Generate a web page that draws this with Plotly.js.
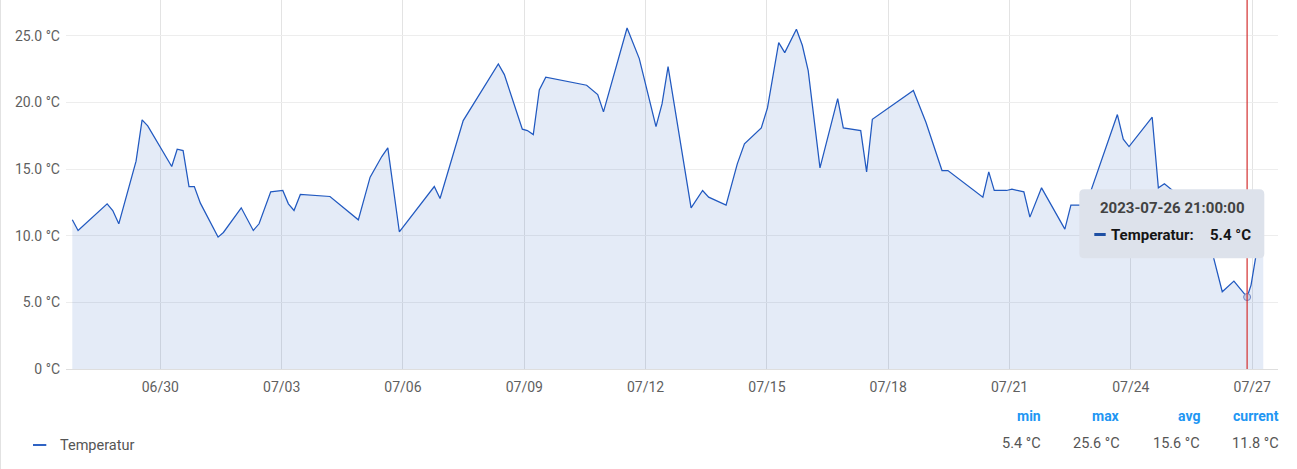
<!DOCTYPE html>
<html><head><meta charset="utf-8">
<script src="https://cdn.plot.ly/plotly-3.0.1.min.js"></script>
<style>
html,body{margin:0;padding:0;background:#fff;}
#chart{width:1297px;height:469px;}
#edge{position:absolute;left:0;top:0;width:1px;height:469px;background:#e2e2e2;}
</style>
</head><body>
<div id="chart"></div><div id="edge"></div>
<script>
const times = [
'2023-06-27 19:45','2023-06-27 23:10','2023-06-28 16:25','2023-06-28 19:45','2023-06-28 23:20',
'2023-06-29 09:35','2023-06-29 13:10','2023-06-29 16:30','2023-06-30 06:45','2023-06-30 10:00',
'2023-06-30 13:30','2023-06-30 17:00','2023-06-30 20:10','2023-06-30 23:45','2023-07-01 10:15',
'2023-07-01 13:25','2023-07-02 00:00','2023-07-02 07:10','2023-07-02 10:35','2023-07-02 17:30',
'2023-07-03 00:40','2023-07-03 04:00','2023-07-03 07:20','2023-07-03 11:05','2023-07-04 04:40',
'2023-07-04 21:30','2023-07-05 04:30','2023-07-05 11:25','2023-07-05 15:00','2023-07-05 21:50',
'2023-07-06 18:35','2023-07-06 22:00','2023-07-07 11:45','2023-07-08 08:35','2023-07-08 12:10',
'2023-07-08 22:50','2023-07-09 01:50','2023-07-09 05:20','2023-07-09 08:55','2023-07-09 12:45',
'2023-07-10 13:00','2023-07-10 19:35','2023-07-10 23:00','2023-07-11 13:00','2023-07-11 20:15',
'2023-07-12 06:10','2023-07-12 09:45','2023-07-12 13:20','2023-07-13 03:00','2023-07-13 09:50',
'2023-07-13 13:25','2023-07-13 23:45','2023-07-14 06:25','2023-07-14 10:40','2023-07-14 20:40',
'2023-07-15 00:20','2023-07-15 07:00','2023-07-15 10:35','2023-07-15 17:30','2023-07-15 21:00',
'2023-07-16 00:30','2023-07-16 07:30','2023-07-16 18:00','2023-07-16 21:20','2023-07-17 07:40',
'2023-07-17 11:10','2023-07-17 14:35','2023-07-18 11:35','2023-07-18 14:55','2023-07-18 22:25',
'2023-07-19 07:55','2023-07-19 11:25','2023-07-20 08:10','2023-07-20 11:40','2023-07-20 14:55',
'2023-07-20 22:15','2023-07-21 01:25','2023-07-21 08:30','2023-07-21 12:05','2023-07-21 19:00',
'2023-07-22 08:50','2023-07-22 12:25','2023-07-22 21:20','2023-07-23 16:00','2023-07-23 19:30',
'2023-07-23 22:55','2023-07-24 12:40','2023-07-24 16:20','2023-07-24 19:55','2023-07-25 18:40',
'2023-07-26 06:15','2023-07-26 13:10','2023-07-26 21:00','2023-07-26 23:20','2023-07-27 06:35'
];
const temps = [
11.2,10.4,12.4,11.9,10.9,
15.6,18.7,18.25,15.2,16.5,
16.4,13.7,13.7,12.45,9.9,
10.25,12.1,10.4,10.9,13.3,
13.4,12.4,11.9,13.1,12.95,
11.2,14.4,15.95,16.6,10.3,
13.7,12.8,18.65,22.9,22.1,
18.0,17.9,17.6,20.95,21.9,
21.3,20.6,19.3,25.6,23.3,
18.2,19.9,22.7,12.1,13.4,
12.9,12.3,15.4,16.9,18.1,
19.6,24.5,23.75,25.5,24.3,
22.4,15.1,20.3,18.1,17.9,
14.8,18.75,20.6,20.9,18.5,
14.9,14.9,12.9,14.8,13.4,
13.4,13.5,13.3,11.4,13.6,
10.5,12.3,12.3,19.1,17.25,
16.7,18.9,13.6,13.9,11.55,
5.8,6.6,5.4,6.3,11.8
];
const seriesName = 'Temperatur';
const yTickVals = [0, 5, 10, 15, 20, 25];
const yTickText = ['0 °C', '5.0 °C', '10.0 °C', '15.0 °C', '20.0 °C', '25.0 °C'];
const statLabels = ['min', 'max', 'avg', 'current'];
const statValues = ['5.4 °C', '25.6 °C', '15.6 °C', '11.8 °C'];
const hoverTime = '2023-07-26 21:00';

// geometry (pixels)
const W = 1297, H = 469, ML = 66, MR = 19, MT = 0, MB = 100;
const PW = W - ML - MR, PH = H - MT - MB;
const fx = px => (px - ML) / PW;
const fy = py => (MT + PH - py) / PH;

const hi = times.indexOf(hoverTime);
const hoverVal = temps[hi];

const lineColor = '#2159c0';
const font = 'Roboto, "Noto Sans", sans-serif';

const traces = [
  {
    x: times, y: temps, type: 'scatter', mode: 'lines', name: seriesName,
    line: {color: lineColor, width: 1.25},
    fill: 'tozeroy', fillcolor: 'rgba(33,89,192,0.12)',
    hoverinfo: 'skip', showlegend: false
  },
  {
    x: [times[hi]], y: [hoverVal], type: 'scatter', mode: 'markers',
    marker: {size: 7, color: 'rgba(196,207,230,0.95)', line: {color: '#6d86c6', width: 1}},
    hoverinfo: 'skip', showlegend: false
  }
];

// tooltip box (rounded rect in paper coords)
const bx0 = 1079.3, bx1 = 1264.3, by0 = 189.3, by1 = 258.3, r = 5;
const rx = r / PW, ry = r / PH;
const X0 = fx(bx0), X1 = fx(bx1), Yt = fy(by0), Yb = fy(by1);
const boxPath = `M ${X0+rx} ${Yt} L ${X1-rx} ${Yt} Q ${X1} ${Yt} ${X1} ${Yt-ry} L ${X1} ${Yb+ry} Q ${X1} ${Yb} ${X1-rx} ${Yb} L ${X0+rx} ${Yb} Q ${X0} ${Yb} ${X0} ${Yb+ry} L ${X0} ${Yt-ry} Q ${X0} ${Yt} ${X0+rx} ${Yt} Z`;

const shapes = [
  {type: 'line', xref: 'x', yref: 'paper', x0: times[hi], x1: times[hi], y0: 0, y1: 1,
   line: {color: '#d32f2f', width: 1.2}, layer: 'above'},
  {type: 'path', xref: 'paper', yref: 'paper', path: boxPath,
   fillcolor: 'rgb(221,226,235)', line: {width: 0}, layer: 'above'},
  {type: 'line', xref: 'paper', yref: 'paper', x0: fx(1094.3), x1: fx(1105.7), y0: fy(234.5), y1: fy(234.5),
   line: {color: '#1d4fa3', width: 3}, layer: 'above'},
  {type: 'line', xref: 'paper', yref: 'paper', x0: fx(33), x1: fx(46.3), y0: fy(445), y1: fy(445),
   line: {color: '#2f63c4', width: 2}, layer: 'above'}
];

const annotations = [
  {xref: 'paper', yref: 'paper', x: fx(1172), y: fy(207.7), xanchor: 'center', yanchor: 'middle',
   text: '<b>' + hoverTime + ':00</b>', showarrow: false, font: {family: font, size: 15, color: '#424242'}},
  {xref: 'paper', yref: 'paper', x: fx(1108.5), y: fy(235), xanchor: 'left', yanchor: 'middle',
   text: '<b>' + seriesName + ':</b>', showarrow: false, font: {family: font, size: 15, color: '#151515'}},
  {xref: 'paper', yref: 'paper', x: fx(1253), y: fy(235), xanchor: 'right', yanchor: 'middle',
   text: '<b>' + hoverVal.toFixed(1) + ' °C</b>', showarrow: false, font: {family: font, size: 15, color: '#151515'}},
  {xref: 'paper', yref: 'paper', x: fx(58), y: fy(445), xanchor: 'left', yanchor: 'middle',
   text: seriesName, showarrow: false, font: {family: font, size: 14.5, color: '#555555'}}
];
const statRight = [1042.5, 1122.3, 1201.7, 1281];
statLabels.forEach((lab, i) => {
  annotations.push({xref: 'paper', yref: 'paper', x: fx(statRight[i]), y: fy(416), xanchor: 'right', yanchor: 'middle',
    text: '<b>' + lab + '</b>', showarrow: false, font: {family: font, size: 14, color: '#2196f3'}});
  annotations.push({xref: 'paper', yref: 'paper', x: fx(statRight[i]), y: fy(444), xanchor: 'right', yanchor: 'middle',
    text: statValues[i], showarrow: false, font: {family: font, size: 14.5, color: '#555555'}});
});

const layout = {
  width: W, height: H,
  margin: {l: ML, r: MR, t: MT, b: MB, pad: 0},
  paper_bgcolor: '#ffffff', plot_bgcolor: '#ffffff',
  showlegend: false, hovermode: false,
  font: {family: font, color: '#5f5f5f'},
  xaxis: {
    type: 'date', range: ['2023-06-27 16:00', '2023-07-27 15:20'],
    tick0: '2023-06-30', dtick: 3 * 86400000, tickformat: '%m/%d',
    showgrid: true, gridcolor: '#e3e3e3', gridwidth: 1,
    showline: true, linecolor: '#dedede', linewidth: 1,
    zeroline: false, ticks: '', ticklabelstandoff: 5,
    tickfont: {family: font, size: 14, color: '#5f5f5f'},
    fixedrange: true
  },
  yaxis: {
    range: [0, 27.7], tickvals: yTickVals, ticktext: yTickText,
    showgrid: true, gridcolor: '#ededed', gridwidth: 1,
    zeroline: false, showline: false, ticks: '', ticklabelstandoff: 5,
    tickfont: {family: font, size: 14, color: '#5f5f5f'},
    fixedrange: true
  },
  shapes: shapes, annotations: annotations
};

Plotly.newPlot('chart', traces, layout, {staticPlot: true, displayModeBar: false});
</script>
</body></html>
